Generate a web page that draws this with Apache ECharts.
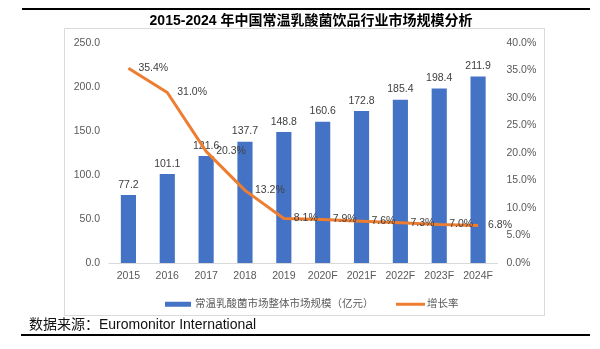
<!DOCTYPE html>
<html>
<head>
<meta charset="utf-8">
<script src="https://cdn.jsdelivr.net/npm/echarts@6/dist/echarts.min.js"></script>
<style>
  html, body { margin: 0; padding: 0; background: #fff; }
  #chart { width: 600px; height: 349px; }
</style>
</head>
<body>
<div id="chart"></div>
<script>
// Years on the category axis (F = forecast)
const years = ['2015', '2016', '2017', '2018', '2019', '2020F', '2021F', '2022F', '2023F', '2024F'];
// Market size, 100 million yuan
const marketSize = [77.2, 101.1, 121.6, 137.7, 148.8, 160.6, 172.8, 185.4, 198.4, 211.9];
// Year-on-year growth, percent
const growthRate = [35.4, 31.0, 20.3, 13.2, 8.1, 7.9, 7.6, 7.3, 7.0, 6.8];

const sizeName = '常温乳酸菌市场整体市场规模（亿元）';
const rateName = '增长率';

const latinFont = "'Liberation Sans', Arial, 'Noto Sans CJK SC', sans-serif";
const axisGray = '#595959';
const labelGray = '#404040';

const chart = echarts.init(document.getElementById('chart'), null, { renderer: 'canvas' });

chart.setOption({
  backgroundColor: '#ffffff',
  animation: false,
  textStyle: { fontFamily: latinFont },
  title: {
    text: '2015-2024 年中国常温乳酸菌饮品行业市场规模分析',
    left: 306,
    textAlign: 'center',
    top: 9,
    textStyle: { fontSize: 14, fontWeight: 'bold', color: '#000', fontFamily: latinFont }
  },
  graphic: [
    { type: 'rect', shape: { x: 22, y: 8, width: 568, height: 2 }, style: { fill: '#000' } },
    { type: 'rect', shape: { x: 64.5, y: 28.5, width: 480, height: 287 },
      style: { fill: 'none', stroke: '#D9D9D9', lineWidth: 1 } },
    { type: 'text', left: 29, top: 318,
      style: { text: '数据来源：Euromonitor International', font: "14px 'Liberation Sans', Arial, 'Noto Sans CJK SC'", fill: '#111' } },
    { type: 'rect', shape: { x: 21, y: 334, width: 569, height: 2 }, style: { fill: '#000' } }
  ],
  legend: [
    {
      data: [{ name: sizeName, icon: 'rect' }],
      left: 160, top: 294,
      itemWidth: 26, itemHeight: 5, itemGap: 4,
      textStyle: { fontSize: 10.5, color: axisGray, fontFamily: latinFont, padding: [0, 0, 0, -1] }
    },
    {
      data: [{ name: rateName, icon: 'rect' }],
      left: 391, top: 294,
      itemWidth: 29, itemHeight: 3,
      textStyle: { fontSize: 10.5, color: axisGray, fontFamily: latinFont, padding: [0, 0, 0, -3] }
    }
  ],
  grid: { left: 109, right: 102.5, top: 43, bottom: 86, containLabel: false },
  xAxis: {
    type: 'category',
    data: years,
    axisLine: { lineStyle: { color: '#D9D9D9', width: 1 } },
    axisTick: { show: false },
    axisLabel: { color: axisGray, fontSize: 10.5, margin: 8 }
  },
  yAxis: [
    {
      type: 'value', min: 0, max: 250, interval: 50,
      axisLine: { show: false }, axisTick: { show: false },
      splitLine: { show: false },
      axisLabel: { color: axisGray, fontSize: 10.5, margin: 9, formatter: v => v.toFixed(1) }
    },
    {
      type: 'value', min: 0, max: 40, interval: 5,
      axisLine: { show: false }, axisTick: { show: false },
      splitLine: { show: false },
      axisLabel: { color: axisGray, fontSize: 10.5, margin: 9, formatter: v => v.toFixed(1) + '%' }
    }
  ],
  series: [
    {
      name: sizeName,
      type: 'bar',
      data: marketSize,
      barWidth: '39%',
      itemStyle: { color: '#4472C4' },
      label: {
        show: true, position: 'top', distance: 5,
        color: labelGray, fontSize: 10.5,
        formatter: p => p.value.toFixed(1)
      },
      z: 2
    },
    {
      name: rateName,
      type: 'line',
      yAxisIndex: 1,
      data: growthRate,
      showSymbol: true,
      symbol: 'circle',
      symbolSize: 0,
      lineStyle: { color: '#ED7D31', width: 3 },
      itemStyle: { color: '#ED7D31' },
      label: {
        show: true, position: 'right', distance: 10,
        color: labelGray, fontSize: 10.5,
        formatter: p => p.value.toFixed(1) + '%'
      },
      z: 3
    }
  ]
});
</script>
</body>
</html>
